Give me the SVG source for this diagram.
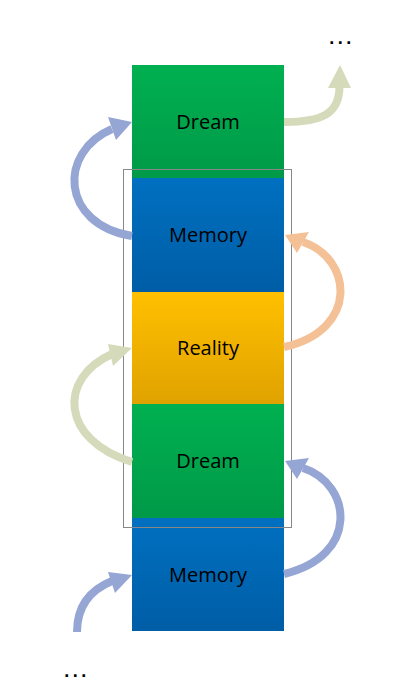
<svg xmlns="http://www.w3.org/2000/svg" width="415" height="697" viewBox="0 0 415 697">
<style>
.lbl{font-family:"Open Sans","Noto Sans","Liberation Sans",sans-serif;font-size:20px;fill:#000;text-anchor:middle}
.dots{font-family:"Liberation Sans",sans-serif;font-size:18px;font-weight:bold;fill:#000;text-anchor:middle;letter-spacing:3.5px}
.c{fill:none;stroke-width:8;stroke-linecap:butt}
.blue{stroke:#95A5D4}.bluef{fill:#95A5D4}
.olive{stroke:#D5DBBA}.olivef{fill:#D5DBBA}
.orange{stroke:#F4C197}.orangef{fill:#F4C197}
</style>
<defs>
<linearGradient id="gG" x1="0" y1="0" x2="0" y2="1"><stop offset="0" stop-color="#00B050"/><stop offset="1" stop-color="#009A48"/></linearGradient>
<linearGradient id="gB" x1="0" y1="0" x2="0" y2="1"><stop offset="0" stop-color="#0070C0"/><stop offset="1" stop-color="#005DA6"/></linearGradient>
<linearGradient id="gY" x1="0" y1="0" x2="0" y2="1"><stop offset="0" stop-color="#FFC000"/><stop offset="1" stop-color="#E0A200"/></linearGradient>
</defs>
<rect width="415" height="697" fill="#fff"/>
<g id="dream-top"><rect x="132" y="65" width="152" height="113" fill="url(#gG)"/><text class="lbl" x="208" y="129">Dream</text></g>
<g id="memory-top"><rect x="132" y="178" width="152" height="114" fill="url(#gB)"/><text class="lbl" x="208" y="242">Memory</text></g>
<g id="reality"><rect x="132" y="292" width="152" height="112" fill="url(#gY)"/><text class="lbl" x="208" y="355">Reality</text></g>
<g id="dream-bottom"><rect x="132" y="404" width="152" height="114" fill="url(#gG)"/><text class="lbl" x="208" y="468">Dream</text></g>
<g id="memory-bottom"><rect x="132" y="518" width="152" height="113" fill="url(#gB)"/><text class="lbl" x="208" y="582">Memory</text></g>
<g id="frame"><rect x="123.5" y="169.5" width="168" height="358" fill="none" stroke="#888" stroke-width="1"/></g>
<g id="ellipsis-top"><text class="dots" x="342" y="44">...</text></g>
<g id="ellipsis-bottom"><text class="dots" x="77" y="677">...</text></g>
<g id="connectors">
<path class="c blue" d="M132,236 C60,224 58,152 112,129"/>
<polygon class="bluef" points="132,122 108,117 116,140"/>
<path class="c olive" d="M284,122 C322,122 339,114 339.5,87"/>
<polygon class="olivef" points="340,65 328,88 351,88"/>
<path class="c orange" d="M284,347 C360,330 352,258 303,242"/>
<polygon class="orangef" points="285,235 309,232 297,253"/>
<path class="c olive" d="M132,462 C60,440 58,378 112,354"/>
<polygon class="olivef" points="132,348 108,344 113,366"/>
<path class="c blue" d="M284,574 C360,556 352,484 303,468"/>
<polygon class="bluef" points="285,461 309,458 297,479"/>
<path class="c blue" d="M77,632 C77,606 90,590 112,581"/>
<polygon class="bluef" points="132,575 108,572 115,593"/>
</g>
</svg>
